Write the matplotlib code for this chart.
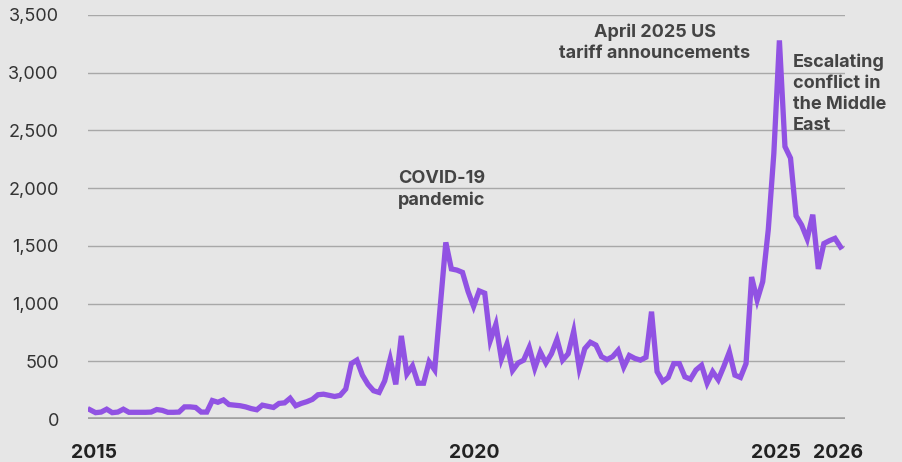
import matplotlib
matplotlib.use("Agg")
import matplotlib.pyplot as plt
import numpy as np

# Monthly index values, late 2014 through early 2026
values = [
    80, 55, 60, 85, 55, 60, 85, 58, 58, 58,
    58, 60, 82, 75, 58, 58, 60, 105, 105, 100,
    60, 60, 160, 145, 165, 125, 120, 115, 105, 90,
    80, 120, 110, 100, 135, 140, 180, 115, 135, 150,
    170, 210, 215, 205, 195, 205, 260, 480, 510, 380,
    300, 245, 230, 330, 520, 300, 720, 390, 460, 310,
    310, 495, 425, 980, 1530, 1300, 1290, 1270, 1105, 975,
    1110, 1090, 680, 820, 520, 650, 420, 485, 510, 620,
    440, 580, 485, 565, 690, 510, 565, 760, 440, 610,
    665, 640, 540, 515, 540, 595, 450, 550, 525, 510,
    535, 930, 410, 325, 360, 480, 480, 365, 345, 425,
    465, 310, 410, 340, 455, 580, 380, 360, 480, 1230,
    1030, 1190, 1640, 2300, 3280, 2360, 2260, 1760, 1680, 1560,
    1770, 1300, 1520, 1545, 1565, 1490,
]

year_labels = ["2015", "2020", "2025", "2026"]
year_positions = [0.7, 69.1, 123.4, 134.5]

y_ticks = [0, 500, 1000, 1500, 2000, 2500, 3000, 3500]

annotations = [
    ("COVID-19\npandemic", 63.3, 1990, "center"),
    ("April 2025 US\ntariff announcements", 101.6, 3262, "center"),
    ("Escalating\nconflict in\nthe Middle\nEast", 126.4, 2820, "left"),
]

bg = "#e6e6e6"
purple = "#9152e3"
plt.rcParams["font.family"] = ["Inter", "DejaVu Sans"]

fig = plt.figure(figsize=(9.03, 4.62), dpi=100, facecolor=bg)
ax = fig.add_axes([88 / 903, 1 - 419 / 462, (845 - 88) / 903, (419 - 15) / 462])
ax.set_facecolor(bg)

x = np.arange(len(values))
ax.plot(x, values, color=purple, lw=3.8, solid_joinstyle="miter", zorder=3)

ax.set_ylim(0, 3500)
ax.set_xlim(-0.36, 135.8)

ax.set_yticks(y_ticks)
ax.set_yticklabels([f"{v:,}" for v in y_ticks])
for v in y_ticks[1:]:
    ax.axhline(v, color="#a8a8a8", lw=1.0, zorder=1)
ax.axhline(0, color="#a0a0a0", lw=2.6, zorder=2)

ax.set_xticks(year_positions)
ax.set_xticklabels(year_labels, fontweight="bold", color="#222222")

ax.tick_params(axis="y", length=0, pad=21, labelsize=13, labelcolor="#333333")
ax.tick_params(axis="x", length=0, pad=18, labelsize=14)

for s in ax.spines.values():
    s.set_visible(False)

for text, tx, ty, ha in annotations:
    ax.text(tx, ty, text, ha=ha, va="center", fontsize=13, fontweight="bold",
            color="#444444", linespacing=1.3, zorder=4)

fig.savefig("out.png", dpi=100, facecolor=bg)
